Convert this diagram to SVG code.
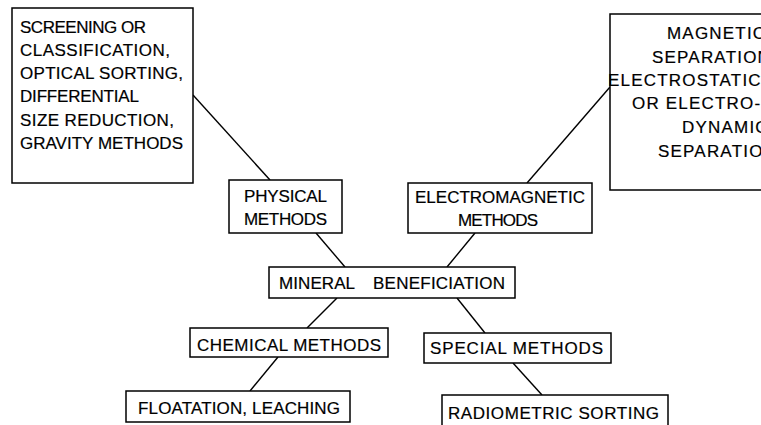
<svg xmlns="http://www.w3.org/2000/svg" width="761" height="425" viewBox="0 0 761 425">
<style>
rect{fill:#fff;stroke:#000;stroke-width:1.5}
text{font-family:"Liberation Sans",Arial,sans-serif;font-size:17px;fill:#000;stroke:#000;stroke-width:0.2}
.sp{letter-spacing:1.2px}
#connectors line{stroke:#000;stroke-width:1.4;fill:none}
</style>
<rect x="0" y="0" width="761" height="425" style="stroke:none"/>
<g id="connectors">
<line x1="193" y1="95" x2="270" y2="180"/>
<line x1="610" y1="87" x2="527" y2="183"/>
<line x1="316" y1="233" x2="345" y2="267"/>
<line x1="475" y1="233" x2="447" y2="267"/>
<line x1="337" y1="298" x2="307" y2="328"/>
<line x1="457" y1="298" x2="485" y2="333"/>
<line x1="278" y1="357" x2="250" y2="391"/>
<line x1="513" y1="363" x2="542" y2="395"/>
</g>
<g id="physical-examples">
<rect x="12" y="8" width="181" height="175"/>
<text x="20" y="33" textLength="126" lengthAdjust="spacing">SCREENING OR</text>
<text x="20" y="56" textLength="150" lengthAdjust="spacing">CLASSIFICATION,</text>
<text x="20" y="79" textLength="163" lengthAdjust="spacing">OPTICAL SORTING,</text>
<text x="20" y="102" textLength="119" lengthAdjust="spacing">DIFFERENTIAL</text>
<text x="20" y="126" textLength="154" lengthAdjust="spacing">SIZE REDUCTION,</text>
<text x="20" y="149" textLength="163" lengthAdjust="spacing">GRAVITY METHODS</text>
</g>
<g id="electromagnetic-examples">
<rect x="610" y="14" width="180" height="176"/>
<text class="sp" x="667" y="39">MAGNETIC</text>
<text class="sp" x="652" y="63">SEPARATION</text>
<text class="sp" x="608" y="86">ELECTROSTATIC</text>
<text class="sp" x="632" y="109">OR ELECTRO-</text>
<text class="sp" x="682" y="133">DYNAMIC</text>
<text class="sp" x="658" y="157">SEPARATION</text>
</g>
<g id="physical-methods">
<rect x="229" y="180" width="113" height="53"/>
<text x="244" y="202" textLength="83" lengthAdjust="spacing">PHYSICAL</text>
<text x="244" y="225" textLength="83" lengthAdjust="spacing">METHODS</text>
</g>
<g id="electromagnetic-methods">
<rect x="408" y="183" width="184" height="50"/>
<text x="415" y="203" textLength="170" lengthAdjust="spacing">ELECTROMAGNETIC</text>
<text x="458" y="226" textLength="80" lengthAdjust="spacing">METHODS</text>
</g>
<g id="mineral-beneficiation">
<rect x="269" y="267" width="246" height="31"/>
<text x="279" y="289" textLength="76" lengthAdjust="spacing">MINERAL</text>
<text x="373" y="289" textLength="132" lengthAdjust="spacing">BENEFICIATION</text>
</g>
<g id="chemical-methods">
<rect x="190" y="328" width="198" height="29"/>
<text x="197" y="351" textLength="184" lengthAdjust="spacing">CHEMICAL METHODS</text>
</g>
<g id="special-methods">
<rect x="424" y="333" width="187" height="30"/>
<text x="430" y="354" textLength="173" lengthAdjust="spacing">SPECIAL METHODS</text>
</g>
<g id="floatation-leaching">
<rect x="126" y="391" width="224" height="31"/>
<text x="138" y="414" textLength="202" lengthAdjust="spacing">FLOATATION, LEACHING</text>
</g>
<g id="radiometric-sorting">
<rect x="442" y="395" width="226" height="40"/>
<text x="448" y="419" textLength="211" lengthAdjust="spacing">RADIOMETRIC SORTING</text>
</g>
</svg>
